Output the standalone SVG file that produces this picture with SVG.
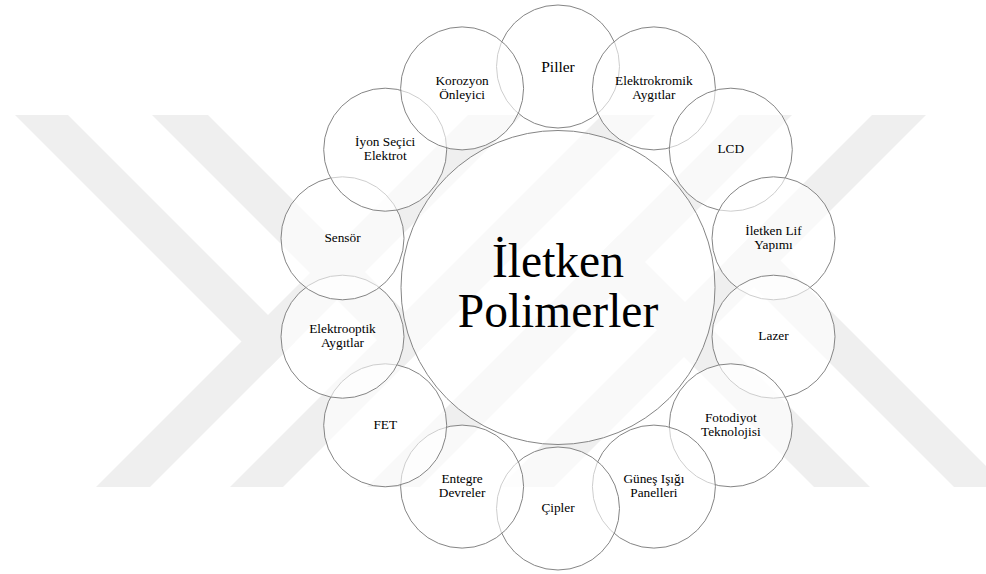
<svg xmlns="http://www.w3.org/2000/svg" width="986" height="574" viewBox="0 0 986 574">
  <style>
    .wm { fill: #efefef; }
    .node circle { fill: #ffffff; fill-opacity: 0.6; stroke: #858585; stroke-width: 1; }
    .lbl { font-family: "Liberation Serif", "Times New Roman", serif; font-size: 13.3px; fill: #000; text-anchor: middle; }
    .big { font-family: "Liberation Serif", "Times New Roman", serif; font-size: 47.5px; fill: #000; text-anchor: middle; }
  </style>
  <defs>
    <g id="wm-half">
      <polygon class="wm" points="468,115 522,115 150,487 96,487"/>
      <polygon class="wm" points="602,115 655,115 283,487 230,487"/>
      <polygon class="wm" points="15,115 68,115 295,342 268.5,368.5"/>
      <polygon class="wm" points="152,115 208,115 431.5,338.5 403.5,366.5"/>
    </g>
  </defs>
  <rect x="0" y="0" width="986" height="574" fill="#ffffff"/>
  <g id="watermark">
    <use href="#wm-half"/>
    <use href="#wm-half" transform="rotate(180 511 301)"/>
  </g>
  <g id="connectors"></g>
  <g id="center" class="node">
    <circle cx="558" cy="287.5" r="157"/>
    <text class="big" x="558" y="277">İletken</text>
    <text class="big" x="558" y="327">Polimerler</text>
  </g>
  <g id="n-piller" class="node">
    <circle cx="558" cy="66.5" r="61.5"/>
    <text class="lbl" style="font-size:15.5px" x="558" y="72">Piller</text>
  </g>
  <g id="n-elektrokromik" class="node">
    <circle cx="653.9" cy="88.4" r="61.5"/>
    <text class="lbl" x="653.9" y="84.9">Elektrokromik</text>
    <text class="lbl" x="653.9" y="98.9">Aygıtlar</text>
  </g>
  <g id="n-lcd" class="node">
    <circle cx="730.8" cy="149.7" r="61.5"/>
    <text class="lbl" x="730.8" y="153.4">LCD</text>
  </g>
  <g id="n-lif" class="node">
    <circle cx="773.5" cy="238.3" r="61.5"/>
    <text class="lbl" x="773.5" y="234.8">İletken Lif</text>
    <text class="lbl" x="773.5" y="248.8">Yapımı</text>
  </g>
  <g id="n-lazer" class="node">
    <circle cx="773.5" cy="336.7" r="61.5"/>
    <text class="lbl" x="773.5" y="340.4">Lazer</text>
  </g>
  <g id="n-fotodiyot" class="node">
    <circle cx="730.8" cy="425.3" r="61.5"/>
    <text class="lbl" x="730.8" y="421.8">Fotodiyot</text>
    <text class="lbl" x="730.8" y="435.8">Teknolojisi</text>
  </g>
  <g id="n-gunes" class="node">
    <circle cx="653.9" cy="486.6" r="61.5"/>
    <text class="lbl" x="653.9" y="483.1">Güneş Işığı</text>
    <text class="lbl" x="653.9" y="497.1">Panelleri</text>
  </g>
  <g id="n-cipler" class="node">
    <circle cx="558" cy="508.5" r="61.5"/>
    <text class="lbl" x="558" y="512">Çipler</text>
  </g>
  <g id="n-entegre" class="node">
    <circle cx="462.1" cy="486.6" r="61.5"/>
    <text class="lbl" x="462.1" y="483.1">Entegre</text>
    <text class="lbl" x="462.1" y="497.1">Devreler</text>
  </g>
  <g id="n-fet" class="node">
    <circle cx="385.2" cy="425.3" r="61.5"/>
    <text class="lbl" x="385.2" y="429">FET</text>
  </g>
  <g id="n-elektrooptik" class="node">
    <circle cx="342.5" cy="336.7" r="61.5"/>
    <text class="lbl" x="342.5" y="333.2">Elektrooptik</text>
    <text class="lbl" x="342.5" y="347.2">Aygıtlar</text>
  </g>
  <g id="n-sensor" class="node">
    <circle cx="342.5" cy="238.3" r="61.5"/>
    <text class="lbl" x="342.5" y="242">Sensör</text>
  </g>
  <g id="n-iyon" class="node">
    <circle cx="385.2" cy="149.7" r="61.5"/>
    <text class="lbl" x="385.2" y="146.2">İyon Seçici</text>
    <text class="lbl" x="385.2" y="160.2">Elektrot</text>
  </g>
  <g id="n-korozyon" class="node">
    <circle cx="462.1" cy="88.4" r="61.5"/>
    <text class="lbl" x="462.1" y="84.9">Korozyon</text>
    <text class="lbl" x="462.1" y="98.9">Önleyici</text>
  </g>
</svg>
